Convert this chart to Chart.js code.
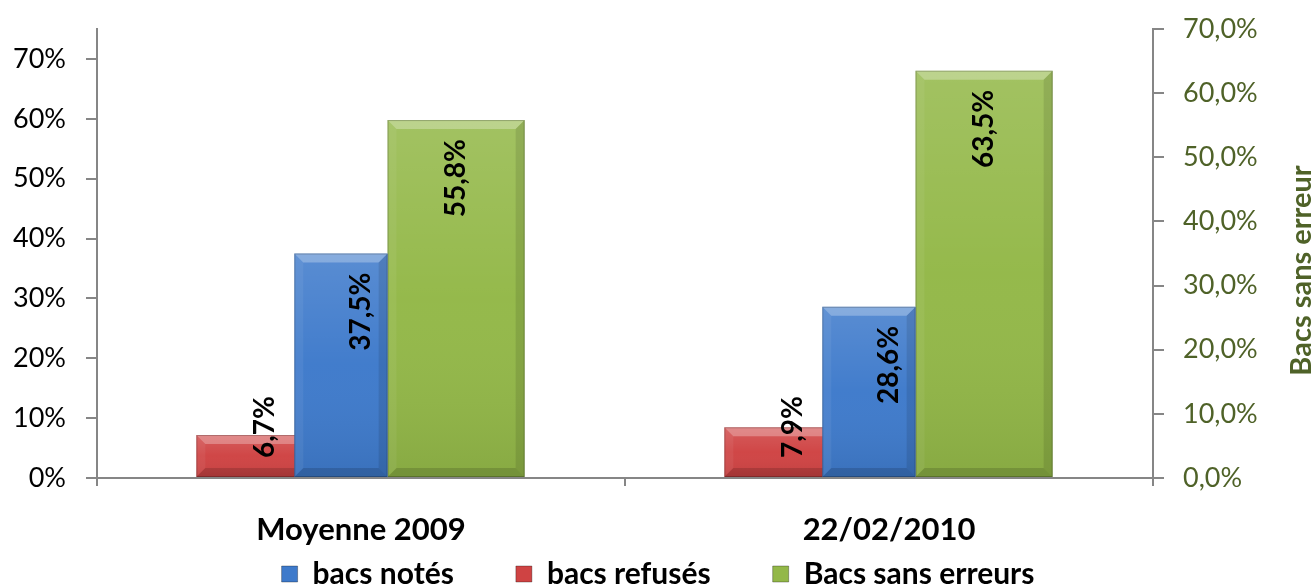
<!DOCTYPE html>
<html>
<head>
<meta charset="utf-8">
<script src="https://cdn.jsdelivr.net/npm/chart.js@4.4.1/dist/chart.umd.min.js"></script>
<style>
  html, body { margin: 0; background: #fff; }
  #wrap { width: 1316px; height: 586px; }
</style>
</head>
<body>
<div id="wrap"><canvas id="chart"></canvas></div>
<script>
const categories = ["Moyenne 2009", "22/02/2010"];
const bacsNotes = [37.5, 28.6];        // primary (left) axis
const bacsRefuses = [6.7, 7.9];        // secondary (right) axis
const bacsSansErreurs = [55.8, 63.5];  // secondary (right) axis
const leftTicks = [0, 10, 20, 30, 40, 50, 60, 70];
const rightTitle = "Bacs sans erreur";

const AXIS_GREY = "#868686";
const OLIVE = "#4f6228";
const LEGEND_GAP = 62;

Chart.defaults.font.family = "Lato, 'Open Sans', sans-serif";
Chart.defaults.color = "#000";

const pct = v => v.toFixed(1).replace(".", ",") + "%";

function poly(ctx, pts, fill) {
  ctx.beginPath();
  ctx.moveTo(pts[0][0], pts[0][1]);
  for (let i = 1; i < pts.length; i++) ctx.lineTo(pts[i][0], pts[i][1]);
  ctx.closePath();
  ctx.fillStyle = fill;
  ctx.fill();
}

// fixed axis box, no extra room asked for the end labels
function fixWidth(w) {
  return s => { s.width = w; s.paddingTop = 0; s.paddingBottom = 0; };
}

// soft bevel on each bar, drawn right after its own dataset so overlaps stay right
const bevelPlugin = {
  id: "bevel",
  afterDatasetDraw(chart, args) {
    const ctx = chart.ctx;
    args.meta.data.forEach(bar => {
      const { x, y, base, width } = bar.getProps(["x", "y", "base", "width"], true);
      const x0 = x - width / 2, x1 = x + width / 2, t = y, b = base;
      const bv = Math.min(9, (b - t) / 2, width / 2);
      ctx.save();
      const g = ctx.createLinearGradient(0, t, 0, b);
      g.addColorStop(0, "rgba(255,255,255,0.14)");
      g.addColorStop(0.5, "rgba(255,255,255,0.02)");
      g.addColorStop(1, "rgba(0,0,0,0.08)");
      ctx.fillStyle = g;
      ctx.fillRect(x0, t, width, b - t);
      poly(ctx, [[x0, t], [x1, t], [x1 - bv, t + bv], [x0 + bv, t + bv]], "rgba(255,255,255,0.28)");
      poly(ctx, [[x0, t], [x0 + bv, t + bv], [x0 + bv, b - bv], [x0, b]], "rgba(255,255,255,0.06)");
      poly(ctx, [[x1, t], [x1 - bv, t + bv], [x1 - bv, b - bv], [x1, b]], "rgba(0,0,0,0.10)");
      poly(ctx, [[x0, b], [x0 + bv, b - bv], [x1 - bv, b - bv], [x1, b]], "rgba(0,0,0,0.14)");
      ctx.strokeStyle = "rgba(0,0,0,0.22)";
      ctx.lineWidth = 1;
      ctx.strokeRect(x0 + 0.5, t + 0.5, width - 1, b - t - 1);
      ctx.restore();
    });
  }
};

// rotated value labels, inside end (or inside base when the bar is too short)
const valueLabels = {
  id: "valueLabels",
  afterDatasetsDraw(chart) {
    const ctx = chart.ctx;
    chart.data.datasets.forEach((ds, i) => {
      chart.getDatasetMeta(i).data.forEach((bar, j) => {
        const { x, y, base } = bar.getProps(["x", "y", "base"], true);
        const text = pct(ds.data[j]);
        const lx = ds.labelAtCategory ? chart.scales.x.getPixelForValue(j) : x;
        ctx.save();
        ctx.font = "bold 28px Lato, sans-serif";
        const w = ctx.measureText(text).width;
        let end = y + 19;
        if (w + 38 > base - y) end = base - 19 - w;
        ctx.translate(lx, end + w);
        ctx.rotate(-Math.PI / 2);
        ctx.textAlign = "left";
        ctx.textBaseline = "middle";
        ctx.fillStyle = "#000";
        ctx.fillText(text, 0, 0);
        ctx.restore();
      });
    });
  }
};

// category names under the axis and the right axis title (reads bottom-to-top)
const axisTexts = {
  id: "axisTexts",
  afterDraw(chart) {
    const { ctx, chartArea } = chart;
    const xs = chart.scales.x;
    ctx.save();
    ctx.font = "bold 31px Lato, sans-serif";
    ctx.fillStyle = "#000";
    ctx.textAlign = "center";
    ctx.textBaseline = "middle";
    categories.forEach((c, i) => ctx.fillText(c, xs.getPixelForValue(i), chartArea.bottom + 52));
    ctx.restore();

    ctx.save();
    ctx.translate(1302, (chartArea.top + chartArea.bottom) / 2 + 17);
    ctx.rotate(-Math.PI / 2);
    ctx.font = "bold 29px Lato, sans-serif";
    ctx.fillStyle = OLIVE;
    ctx.textAlign = "center";
    ctx.textBaseline = "middle";
    ctx.fillText(rightTitle, 0, 0);
    ctx.restore();
  }
};

new Chart(document.getElementById("chart"), {
  type: "bar",
  data: {
    labels: categories,
    datasets: [
      { label: "bacs notés", data: bacsNotes, yAxisID: "y", stack: "a",
        backgroundColor: "#3e7acb", categoryPercentage: 0.1517, barPercentage: 2.33, labelAtCategory: true },
      { label: "bacs refusés", data: bacsRefuses, yAxisID: "y1", stack: "a",
        backgroundColor: "#cf4343", categoryPercentage: 0.728, barPercentage: 0.7135 },
      { label: "Bacs sans erreurs", data: bacsSansErreurs, yAxisID: "y1", stack: "b",
        backgroundColor: "#93b848", categoryPercentage: 0.7204, barPercentage: 0.721 }
    ]
  },
  options: {
    responsive: true,
    maintainAspectRatio: false,
    animation: false,
    layout: { padding: { top: 29, bottom: -13 } },
    plugins: {
      tooltip: { enabled: false },
      legend: {
        position: "bottom",
        labels: {
          boxWidth: 16, boxHeight: 16, padding: LEGEND_GAP,
          font: { size: 30, weight: "bold" }, color: "#000",
          generateLabels: chart => chart.data.datasets.map((ds, i) => ({
            text: ds.label, fillStyle: ds.backgroundColor, strokeStyle: "rgba(0,0,0,0.3)",
            lineWidth: 1, hidden: false, datasetIndex: i
          }))
        }
      }
    },
    scales: {
      x: {
        grid: { offset: true, drawOnChartArea: false, tickLength: 8, color: AXIS_GREY, lineWidth: 2 },
        border: { color: AXIS_GREY, width: 2 },
        ticks: { display: false },
        afterFit: s => { s.height = 19; }
      },
      y: {
        position: "left", min: 0, max: 75, stacked: false,
        afterBuildTicks: s => { s.ticks = leftTicks.map(v => ({ value: v })); },
        ticks: { callback: v => v + "%", font: { size: 27 }, color: "#000", padding: 20 },
        grid: { drawOnChartArea: false, tickLength: 11, color: AXIS_GREY, lineWidth: 2 },
        border: { color: AXIS_GREY, width: 2 },
        afterFit: fixWidth(97)
      },
      y1: {
        position: "right", min: 0, max: 70, stacked: false,
        ticks: { stepSize: 10, callback: v => pct(v), font: { size: 27 }, color: OLIVE, padding: 19 },
        grid: { drawOnChartArea: false, tickLength: 11, color: AXIS_GREY, lineWidth: 2 },
        border: { color: AXIS_GREY, width: 2 },
        afterFit: fixWidth(163)
      }
    }
  },
  plugins: [bevelPlugin, valueLabels, axisTexts]
});
</script>
</body>
</html>
